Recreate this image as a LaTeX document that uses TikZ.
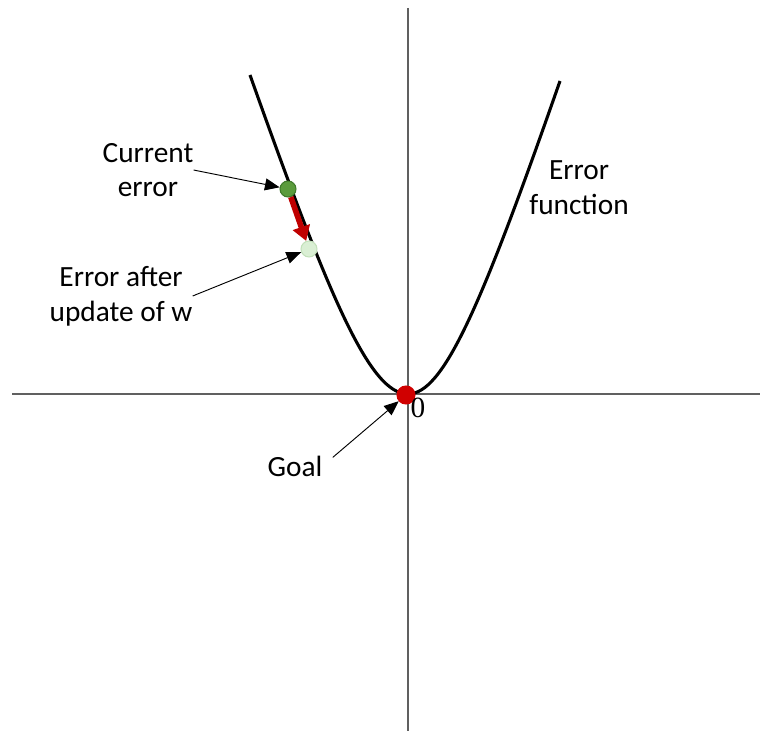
\documentclass[tikz,border=0pt]{standalone}
\usepackage{fontspec}
\setmainfont{Carlito}
\newfontfamily\serifzero{Liberation Serif}
\usetikzlibrary{arrows.meta}
\definecolor{axisgray}{HTML}{606060}
\definecolor{dotgreen}{HTML}{5B9B3C}
\definecolor{dotgreenedge}{HTML}{3F7A2A}
\definecolor{dotlight}{HTML}{DAEFD4}
\definecolor{dotlightedge}{HTML}{C2E0BA}
\definecolor{dotred}{HTML}{D00000}
\definecolor{arrowred}{HTML}{C00000}
\tikzset{
  lbl/.style={inner sep=0pt, align=center, font=\fontsize{22}{26}\selectfont},
  axisline/.style={draw=axisgray, line width=0.9pt},
  curveline/.style={draw=black, line width=2.3pt},
  dot/.style={circle, inner sep=0pt, minimum size=12pt, line width=0.8pt},
  pointer/.style={draw=black, line width=0.7pt, -{Triangle[length=11pt,width=9pt]}},
  steparrow/.style={draw=arrowred, line width=4.2pt, -{Triangle[length=11pt,width=13pt]}}
}
\begin{document}
\begin{tikzpicture}[x=0.75pt, y=-0.75pt]
\useasboundingbox (0,0) rectangle (760,731);
% axes
\coordinate (xl) at (12,394);
\coordinate (xr) at (760,394);
\coordinate (yt) at (408,8);
\coordinate (yb) at (408,731);
\draw[axisline] (xl) -- (xr);
\draw[axisline] (yt) -- (yb);
% error function curve
\draw[curveline] (250,75) .. controls (330,300) and (370,394) .. (408,394)
                 .. controls (443,394) and (480,310) .. (560,81);
% points on the curve
\node[dot, fill=dotgreen, draw=dotgreenedge] (gdot) at (288,189) {};
\node[dot, fill=dotlight, draw=dotlightedge] (ldot) at (309,249) {};
\node[dot, fill=dotred, draw=dotred, minimum size=13.5pt] (rdot) at (406,395) {};
% labels
\node[lbl] (cur) at (148,170) {Current\\error};
\node[lbl] (aft) at (121,296) {Error after\\update of w};
\node[lbl] (goal) at (295,466) {Goal};
\node[lbl] (ef) at (579,188) {Error\\function};
\node[inner sep=0pt, font=\serifzero\fontsize{22}{26}\selectfont] (zero) at (418,408) {0};
% connectors
\draw[steparrow] (gdot) -- (ldot);
\draw[pointer] (cur.east) -- (gdot);
\draw[pointer] (aft.east) -- (ldot);
\draw[pointer, shorten <=10pt] (goal.east) -- (rdot);
\end{tikzpicture}
\end{document}
